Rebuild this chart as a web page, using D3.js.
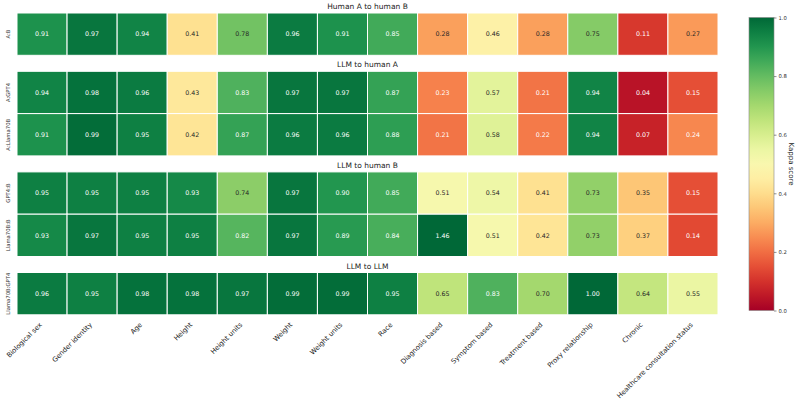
<!DOCTYPE html>
<html>
<head>
<meta charset="utf-8">
<script src="https://cdn.jsdelivr.net/npm/d3@7"></script>
<style>
  body { margin: 0; background: #fff; }
  text { font-family: "DejaVu Sans", sans-serif; }
</style>
</head>
<body>
<svg id="chart" width="800" height="401"></svg>
<script>
var categories = ['Biological sex', 'Gender identity', 'Age', 'Height', 'Height units', 'Weight',
  'Weight units', 'Race', 'Diagnosis based', 'Symptom based', 'Treatment based',
  'Proxy relationship', 'Chronic', 'Healthcare consultation status'];

var panelTitles = ['Human A to human B', 'LLM to human A', 'LLM to human B', 'LLM to LLM'];
var panelRows = [['A:B'], ['A:GPT4', 'A:Llama70B'], ['GPT4:B', 'Llama70B:B'], ['Llama70B:GPT4']];

var rowAB = [0.91, 0.97, 0.94, 0.41, 0.78, 0.96, 0.91, 0.85, 0.28, 0.46, 0.28, 0.75, 0.11, 0.27];
var rowAGPT4 = [0.94, 0.98, 0.96, 0.43, 0.83, 0.97, 0.97, 0.87, 0.23, 0.57, 0.21, 0.94, 0.04, 0.15];
var rowALlama = [0.91, 0.99, 0.95, 0.42, 0.87, 0.96, 0.96, 0.88, 0.21, 0.58, 0.22, 0.94, 0.07, 0.24];
var rowGPT4B = [0.95, 0.95, 0.95, 0.93, 0.74, 0.97, 0.90, 0.85, 0.51, 0.54, 0.41, 0.73, 0.35, 0.15];
var rowLlamaB = [0.93, 0.97, 0.95, 0.95, 0.82, 0.97, 0.89, 0.84, 1.46, 0.51, 0.42, 0.73, 0.37, 0.14];
var rowLlamaGPT4 = [0.96, 0.95, 0.98, 0.98, 0.97, 0.99, 0.99, 0.95, 0.65, 0.83, 0.70, 1.00, 0.64, 0.55];

var rowValues = {
  'A:B': rowAB, 'A:GPT4': rowAGPT4, 'A:Llama70B': rowALlama,
  'GPT4:B': rowGPT4B, 'Llama70B:B': rowLlamaB, 'Llama70B:GPT4': rowLlamaGPT4
};

var colorTicks = [0, 0.2, 0.4, 0.6, 0.8, 1.0];

var svg = d3.select('#chart');

var mapLeft = 17, mapRight = 718, mapTop = 13, rowH = 42.3, panelGap = 16;

var x = d3.scaleBand().domain(categories).range([mapLeft, mapRight]);
var color = d3.scaleSequential(d3.interpolateRdYlGn).domain([0, 1]).clamp(true);

function textColor(v) {
  var c = d3.rgb(color(v));
  var lin = [c.r, c.g, c.b].map(function(u) {
    u = u / 255;
    return u <= 0.03928 ? u / 12.92 : Math.pow((u + 0.055) / 1.055, 2.4);
  });
  var lum = 0.2126 * lin[0] + 0.7152 * lin[1] + 0.0722 * lin[2];
  return lum > 0.408 ? '#262626' : '#ffffff';
}

var y0 = mapTop;
panelRows.forEach(function(rows, p) {
  var panelTop = y0;
  var y = d3.scaleBand().domain(rows).range([panelTop, panelTop + rowH * rows.length]);

  svg.append('text')
    .attr('x', (mapLeft + mapRight) / 2)
    .attr('y', panelTop - 4)
    .attr('text-anchor', 'middle')
    .attr('font-size', 7.5)
    .attr('fill', '#222')
    .text(panelTitles[p]);

  rows.forEach(function(r) {
    var g = svg.append('g');
    var cells = g.selectAll('g.cell')
      .data(rowValues[r].map(function(v, i) { return {v: v, c: categories[i]}; }))
      .enter().append('g').attr('class', 'cell');

    cells.append('rect')
      .attr('x', function(d) { return x(d.c); })
      .attr('y', y(r))
      .attr('width', x.bandwidth())
      .attr('height', y.bandwidth())
      .attr('fill', function(d) { return color(d.v); })
      .attr('stroke', '#fff')
      .attr('stroke-width', 1);

    cells.append('text')
      .attr('x', function(d) { return x(d.c) + x.bandwidth() / 2; })
      .attr('y', y(r) + y.bandwidth() / 2)
      .attr('dy', '0.35em')
      .attr('text-anchor', 'middle')
      .attr('font-size', 6.3)
      .attr('fill', function(d) { return textColor(d.v); })
      .text(function(d) { return d.v.toFixed(2); });

    svg.append('text')
      .attr('transform', 'translate(10,' + (y(r) + y.bandwidth() / 2) + ') rotate(-90)')
      .attr('text-anchor', 'middle')
      .attr('font-size', 5.3)
      .attr('fill', '#333')
      .text(r);
  });

  y0 = panelTop + rowH * rows.length + panelGap;
});

// x tick labels under the last panel
var xLabelTop = y0 - panelGap + 6;
svg.selectAll('text.xlab')
  .data(categories)
  .enter().append('text')
    .attr('class', 'xlab')
    .attr('transform', function(d) {
      return 'translate(' + (x(d) + x.bandwidth() / 2 - 3) + ',' + (xLabelTop + 1) + ') rotate(-45)';
    })
    .attr('text-anchor', 'end')
    .attr('dy', '0.7em')
    .attr('font-size', 6.8)
    .attr('fill', '#222')
    .text(function(d) { return d; });

// colorbar
var cbX = 749, cbW = 25, cbTop = 17.5, cbBottom = 310.5;
var cy = d3.scaleLinear().domain([0, 1]).range([cbBottom, cbTop]);

var grad = svg.append('defs').append('linearGradient')
  .attr('id', 'cbgrad').attr('x1', 0).attr('y1', 1).attr('x2', 0).attr('y2', 0);
d3.range(0, 1.0001, 0.05).forEach(function(t) {
  grad.append('stop').attr('offset', t).attr('stop-color', d3.interpolateRdYlGn(t));
});

svg.append('rect')
  .attr('x', cbX).attr('y', cbTop)
  .attr('width', cbW).attr('height', cbBottom - cbTop)
  .attr('fill', 'url(#cbgrad)')
  .attr('stroke', '#888').attr('stroke-width', 0.6);

var cbAxis = d3.axisRight(cy).tickValues(colorTicks).tickFormat(d3.format('.1f')).tickSize(2.5).tickPadding(2);
var cbg = svg.append('g').attr('transform', 'translate(' + (cbX + cbW) + ',0)').call(cbAxis);
cbg.select('.domain').remove();
cbg.selectAll('line').attr('stroke', '#444').attr('stroke-width', 0.6);
cbg.selectAll('text').attr('font-size', 5.3).attr('fill', '#333').attr('font-family', '"DejaVu Sans", sans-serif');

svg.append('text')
  .attr('transform', 'translate(789,' + (cbTop + cbBottom) / 2 + ') rotate(90)')
  .attr('text-anchor', 'middle')
  .attr('font-size', 7)
  .attr('fill', '#222')
  .text('Kappa score');
</script>
</body>
</html>
